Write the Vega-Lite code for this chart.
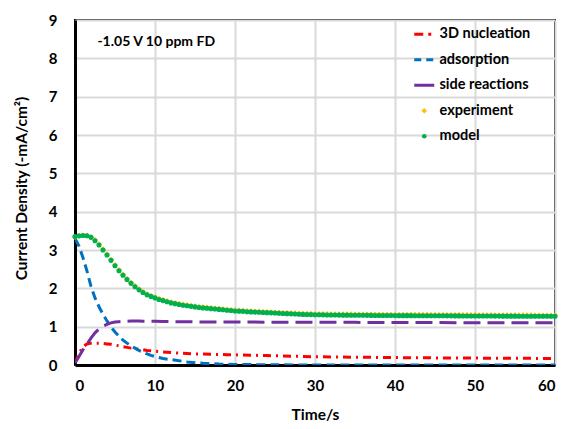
{
  "$schema": "https://vega.github.io/schema/vega-lite/v6.json",
  "width": 480,
  "height": 345,
  "autosize": {"type": "none"},
  "padding": {"left": 75, "top": 20, "right": 16, "bottom": 64},
  "background": "white",
  "config": {
    "view": {"stroke": "#000", "strokeWidth": 2},
    "axis": {
      "labelFont": "Lato", "labelFontWeight": "bold", "labelFontSize": 15, "labelColor": "#000",
      "titleFont": "Lato", "titleFontWeight": "bold", "titleFontSize": 15.5, "titleColor": "#000",
      "ticks": false, "domainColor": "#000", "domainWidth": 3,
      "gridColor": "#d9d9d9", "gridWidth": 2, "labelOverlap": false
    },
    "legend": {"labelFont": "Lato", "labelFontWeight": "bold", "labelFontSize": 14.5, "labelColor": "#000"}
  },
  "datasets": {
    "comp": [
      {"t": 0, "3D nucleation": 0.05, "adsorption": 3.30, "side reactions": 0.05},
      {"t": 0.5, "3D nucleation": 0.30, "adsorption": 3.10, "side reactions": 0.22},
      {"t": 1, "3D nucleation": 0.48, "adsorption": 2.80, "side reactions": 0.40},
      {"t": 1.5, "3D nucleation": 0.55, "adsorption": 2.45, "side reactions": 0.55},
      {"t": 2, "3D nucleation": 0.57, "adsorption": 2.05, "side reactions": 0.70},
      {"t": 2.5, "3D nucleation": 0.57, "adsorption": 1.75, "side reactions": 0.84},
      {"t": 3, "3D nucleation": 0.57, "adsorption": 1.52, "side reactions": 0.94},
      {"t": 3.5, "3D nucleation": 0.56, "adsorption": 1.32, "side reactions": 1.01},
      {"t": 4, "3D nucleation": 0.55, "adsorption": 1.15, "side reactions": 1.06},
      {"t": 4.5, "3D nucleation": 0.54, "adsorption": 0.99, "side reactions": 1.10},
      {"t": 5, "3D nucleation": 0.52, "adsorption": 0.86, "side reactions": 1.12},
      {"t": 5.5, "3D nucleation": 0.50, "adsorption": 0.75, "side reactions": 1.13},
      {"t": 6, "3D nucleation": 0.48, "adsorption": 0.65, "side reactions": 1.14},
      {"t": 6.5, "3D nucleation": 0.46, "adsorption": 0.57, "side reactions": 1.14},
      {"t": 7, "3D nucleation": 0.44, "adsorption": 0.50, "side reactions": 1.145},
      {"t": 7.5, "3D nucleation": 0.43, "adsorption": 0.44, "side reactions": 1.145},
      {"t": 8, "3D nucleation": 0.41, "adsorption": 0.38, "side reactions": 1.145},
      {"t": 8.5, "3D nucleation": 0.40, "adsorption": 0.33, "side reactions": 1.14},
      {"t": 9, "3D nucleation": 0.38, "adsorption": 0.29, "side reactions": 1.14},
      {"t": 9.5, "3D nucleation": 0.37, "adsorption": 0.25, "side reactions": 1.14},
      {"t": 10, "3D nucleation": 0.36, "adsorption": 0.22, "side reactions": 1.14},
      {"t": 11, "3D nucleation": 0.34, "adsorption": 0.17, "side reactions": 1.135},
      {"t": 12, "3D nucleation": 0.325, "adsorption": 0.14, "side reactions": 1.13},
      {"t": 13, "3D nucleation": 0.31, "adsorption": 0.11, "side reactions": 1.13},
      {"t": 14, "3D nucleation": 0.30, "adsorption": 0.08, "side reactions": 1.13},
      {"t": 15, "3D nucleation": 0.29, "adsorption": 0.06, "side reactions": 1.125},
      {"t": 16, "3D nucleation": 0.285, "adsorption": 0.045, "side reactions": 1.125},
      {"t": 17, "3D nucleation": 0.28, "adsorption": 0.035, "side reactions": 1.125},
      {"t": 18, "3D nucleation": 0.275, "adsorption": 0.025, "side reactions": 1.12},
      {"t": 19, "3D nucleation": 0.27, "adsorption": 0.02, "side reactions": 1.12},
      {"t": 20, "3D nucleation": 0.265, "adsorption": 0.015, "side reactions": 1.12},
      {"t": 22, "3D nucleation": 0.255, "adsorption": 0.01, "side reactions": 1.12},
      {"t": 24, "3D nucleation": 0.245, "adsorption": 0.006, "side reactions": 1.118},
      {"t": 26, "3D nucleation": 0.235, "adsorption": 0.004, "side reactions": 1.116},
      {"t": 28, "3D nucleation": 0.225, "adsorption": 0.002, "side reactions": 1.115},
      {"t": 30, "3D nucleation": 0.215, "adsorption": 0.001, "side reactions": 1.114},
      {"t": 35, "3D nucleation": 0.203, "adsorption": 0, "side reactions": 1.112},
      {"t": 40, "3D nucleation": 0.193, "adsorption": 0, "side reactions": 1.11},
      {"t": 45, "3D nucleation": 0.186, "adsorption": 0, "side reactions": 1.106},
      {"t": 50, "3D nucleation": 0.18, "adsorption": 0, "side reactions": 1.103},
      {"t": 55, "3D nucleation": 0.175, "adsorption": 0, "side reactions": 1.10},
      {"t": 60, "3D nucleation": 0.17, "adsorption": 0, "side reactions": 1.10}
    ],
    "pts": [
      {"t": 0, "model": 3.35, "experiment": 3.34},
      {"t": 0.5, "model": 3.37, "experiment": 3.36},
      {"t": 1, "model": 3.38, "experiment": 3.38},
      {"t": 1.5, "model": 3.37, "experiment": 3.38},
      {"t": 2, "model": 3.33, "experiment": 3.34},
      {"t": 2.5, "model": 3.24, "experiment": 3.26},
      {"t": 3, "model": 3.13, "experiment": 3.15},
      {"t": 3.5, "model": 3.00, "experiment": 3.02},
      {"t": 4, "model": 2.87, "experiment": 2.89},
      {"t": 4.5, "model": 2.73, "experiment": 2.75},
      {"t": 5, "model": 2.59, "experiment": 2.61},
      {"t": 5.5, "model": 2.46, "experiment": 2.48},
      {"t": 6, "model": 2.34, "experiment": 2.36},
      {"t": 6.5, "model": 2.23, "experiment": 2.25},
      {"t": 7, "model": 2.13, "experiment": 2.15},
      {"t": 7.5, "model": 2.04, "experiment": 2.06},
      {"t": 8, "model": 1.96, "experiment": 1.98},
      {"t": 8.5, "model": 1.89, "experiment": 1.91},
      {"t": 9, "model": 1.83, "experiment": 1.85},
      {"t": 9.5, "model": 1.79, "experiment": 1.80},
      {"t": 10, "model": 1.75, "experiment": 1.77},
      {"t": 10.5, "model": 1.71, "experiment": 1.73},
      {"t": 11, "model": 1.68, "experiment": 1.70},
      {"t": 11.5, "model": 1.65, "experiment": 1.67},
      {"t": 12, "model": 1.62, "experiment": 1.64},
      {"t": 12.5, "model": 1.60, "experiment": 1.62},
      {"t": 13, "model": 1.58, "experiment": 1.60},
      {"t": 13.5, "model": 1.56, "experiment": 1.58},
      {"t": 14, "model": 1.545, "experiment": 1.565},
      {"t": 14.5, "model": 1.53, "experiment": 1.55},
      {"t": 15, "model": 1.515, "experiment": 1.535},
      {"t": 15.5, "model": 1.50, "experiment": 1.52},
      {"t": 16, "model": 1.49, "experiment": 1.51},
      {"t": 16.5, "model": 1.48, "experiment": 1.50},
      {"t": 17, "model": 1.47, "experiment": 1.49},
      {"t": 17.5, "model": 1.46, "experiment": 1.48},
      {"t": 18, "model": 1.45, "experiment": 1.47},
      {"t": 18.5, "model": 1.44, "experiment": 1.46},
      {"t": 19, "model": 1.43, "experiment": 1.45},
      {"t": 19.5, "model": 1.42, "experiment": 1.44},
      {"t": 20, "model": 1.41, "experiment": 1.43},
      {"t": 20.5, "model": 1.405, "experiment": 1.425},
      {"t": 21, "model": 1.40, "experiment": 1.42},
      {"t": 21.5, "model": 1.39, "experiment": 1.41},
      {"t": 22, "model": 1.385, "experiment": 1.405},
      {"t": 22.5, "model": 1.38, "experiment": 1.40},
      {"t": 23, "model": 1.375, "experiment": 1.395},
      {"t": 23.5, "model": 1.37, "experiment": 1.39},
      {"t": 24, "model": 1.365, "experiment": 1.385},
      {"t": 24.5, "model": 1.36, "experiment": 1.38},
      {"t": 25, "model": 1.355, "experiment": 1.375},
      {"t": 25.5, "model": 1.35, "experiment": 1.37},
      {"t": 26, "model": 1.345, "experiment": 1.365},
      {"t": 26.5, "model": 1.34, "experiment": 1.36},
      {"t": 27, "model": 1.335, "experiment": 1.355},
      {"t": 27.5, "model": 1.33, "experiment": 1.35},
      {"t": 28, "model": 1.325, "experiment": 1.345},
      {"t": 28.5, "model": 1.32, "experiment": 1.34},
      {"t": 29, "model": 1.318, "experiment": 1.338},
      {"t": 29.5, "model": 1.315, "experiment": 1.336},
      {"t": 30, "model": 1.312, "experiment": 1.334},
      {"t": 30.5, "model": 1.31, "experiment": 1.332},
      {"t": 31, "model": 1.308, "experiment": 1.331},
      {"t": 31.5, "model": 1.306, "experiment": 1.33},
      {"t": 32, "model": 1.304, "experiment": 1.328},
      {"t": 32.5, "model": 1.303, "experiment": 1.327},
      {"t": 33, "model": 1.302, "experiment": 1.326},
      {"t": 33.5, "model": 1.301, "experiment": 1.325},
      {"t": 34, "model": 1.30, "experiment": 1.324},
      {"t": 34.5, "model": 1.299, "experiment": 1.323},
      {"t": 35, "model": 1.298, "experiment": 1.322},
      {"t": 35.5, "model": 1.297, "experiment": 1.321},
      {"t": 36, "model": 1.296, "experiment": 1.32},
      {"t": 36.5, "model": 1.295, "experiment": 1.32},
      {"t": 37, "model": 1.294, "experiment": 1.319},
      {"t": 37.5, "model": 1.293, "experiment": 1.318},
      {"t": 38, "model": 1.292, "experiment": 1.317},
      {"t": 38.5, "model": 1.291, "experiment": 1.316},
      {"t": 39, "model": 1.29, "experiment": 1.315},
      {"t": 39.5, "model": 1.29, "experiment": 1.315},
      {"t": 40, "model": 1.289, "experiment": 1.314},
      {"t": 40.5, "model": 1.288, "experiment": 1.313},
      {"t": 41, "model": 1.288, "experiment": 1.313},
      {"t": 41.5, "model": 1.287, "experiment": 1.312},
      {"t": 42, "model": 1.287, "experiment": 1.312},
      {"t": 42.5, "model": 1.286, "experiment": 1.311},
      {"t": 43, "model": 1.286, "experiment": 1.311},
      {"t": 43.5, "model": 1.285, "experiment": 1.31},
      {"t": 44, "model": 1.285, "experiment": 1.31},
      {"t": 44.5, "model": 1.284, "experiment": 1.309},
      {"t": 45, "model": 1.284, "experiment": 1.309},
      {"t": 45.5, "model": 1.283, "experiment": 1.308},
      {"t": 46, "model": 1.283, "experiment": 1.308},
      {"t": 46.5, "model": 1.282, "experiment": 1.307},
      {"t": 47, "model": 1.282, "experiment": 1.307},
      {"t": 47.5, "model": 1.281, "experiment": 1.306},
      {"t": 48, "model": 1.281, "experiment": 1.306},
      {"t": 48.5, "model": 1.28, "experiment": 1.305},
      {"t": 49, "model": 1.28, "experiment": 1.305},
      {"t": 49.5, "model": 1.279, "experiment": 1.304},
      {"t": 50, "model": 1.279, "experiment": 1.304},
      {"t": 50.5, "model": 1.278, "experiment": 1.303},
      {"t": 51, "model": 1.278, "experiment": 1.303},
      {"t": 51.5, "model": 1.277, "experiment": 1.302},
      {"t": 52, "model": 1.277, "experiment": 1.302},
      {"t": 52.5, "model": 1.276, "experiment": 1.301},
      {"t": 53, "model": 1.276, "experiment": 1.301},
      {"t": 53.5, "model": 1.275, "experiment": 1.30},
      {"t": 54, "model": 1.275, "experiment": 1.30},
      {"t": 54.5, "model": 1.274, "experiment": 1.299},
      {"t": 55, "model": 1.274, "experiment": 1.299},
      {"t": 55.5, "model": 1.273, "experiment": 1.298},
      {"t": 56, "model": 1.273, "experiment": 1.298},
      {"t": 56.5, "model": 1.272, "experiment": 1.297},
      {"t": 57, "model": 1.272, "experiment": 1.297},
      {"t": 57.5, "model": 1.271, "experiment": 1.296},
      {"t": 58, "model": 1.271, "experiment": 1.296},
      {"t": 58.5, "model": 1.27, "experiment": 1.295},
      {"t": 59, "model": 1.27, "experiment": 1.295},
      {"t": 59.5, "model": 1.27, "experiment": 1.295},
      {"t": 60, "model": 1.27, "experiment": 1.295}
    ],
    "note": [{"t": 2.8, "v": 8.43, "label": "-1.05 V 10 ppm FD"}]
  },
  "encoding": {
    "x": {"field": "t", "type": "quantitative", "scale": {"domain": [0, 60], "nice": false},
      "axis": {"title": "Time/s", "values": [0, 10, 20, 30, 40, 50, 60], "labelPadding": 13, "labelOverlap": false, "titleY": 49, "titleBaseline": "middle"}},
    "y": {"field": "v", "type": "quantitative", "scale": {"domain": [0, 9], "nice": false},
      "axis": {"title": "Current Density (-mA/cm²)", "values": [0, 1, 2, 3, 4, 5, 6, 7, 8, 9], "labelOverlap": false, "labelFlush": false, "labelPadding": 18, "titleX": -54, "titleY": 168, "titleBaseline": "middle"}}
  },
  "layer": [
    {
      "data": {"name": "comp"},
      "transform": [{"fold": ["3D nucleation", "adsorption", "side reactions"], "as": ["series", "v"]}],
      "mark": {"type": "line", "strokeWidth": 3, "clip": true},
      "encoding": {
        "color": {"field": "series", "type": "nominal",
          "scale": {"domain": ["3D nucleation", "adsorption", "side reactions", "experiment", "model"],
                    "range": ["#FF0000", "#0070C0", "#7030A0", "#FFC000", "#00B050"]},
          "legend": {
            "title": null, "orient": "none", "legendX": 342, "legendY": 7, "padding": 0,
            "symbolSize": 400, "rowPadding": 10.5, "labelOffset": 8,
            "encode": {"symbols": {"update": {
              "shape": {"signal": "datum.value == 'experiment' ? 'diamond' : datum.value == 'model' ? 'circle' : 'stroke'"},
              "size": {"signal": "datum.value == 'experiment' ? 30 : datum.value == 'model' ? 22 : 400"},
              "fill": {"signal": "datum.value == 'experiment' ? '#FFC000' : datum.value == 'model' ? '#00B050' : 'transparent'"},
              "stroke": {"signal": "datum.value == '3D nucleation' ? '#FF0000' : datum.value == 'adsorption' ? '#0070C0' : datum.value == 'side reactions' ? '#7030A0' : 'transparent'"},
              "strokeWidth": {"signal": "datum.value == 'experiment' || datum.value == 'model' ? 0 : 3"},
              "strokeDash": {"signal": "datum.value == '3D nucleation' ? [9, 5, 3, 5] : datum.value == 'adsorption' ? [7, 5] : [1, 0]"},
              "opacity": {"value": 1}
            }}}
          }},
        "strokeDash": {"field": "series", "type": "nominal",
          "scale": {"domain": ["3D nucleation", "adsorption", "side reactions"], "range": [[8, 5, 2, 5], [9, 5], [17, 7]]},
          "legend": null}
      }
    },
    {
      "data": {"name": "pts"},
      "transform": [{"fold": ["experiment"], "as": ["series", "v"]}],
      "mark": {"type": "point", "shape": "diamond", "filled": true, "size": 34, "opacity": 1},
      "encoding": {
        "color": {"field": "series", "type": "nominal"}
      }
    },
    {
      "data": {"name": "pts"},
      "transform": [{"fold": ["model"], "as": ["series", "v"]}],
      "mark": {"type": "point", "shape": "circle", "filled": true, "size": 26, "opacity": 1},
      "encoding": {
        "color": {"field": "series", "type": "nominal"}
      }
    },
    {
      "data": {"name": "note"},
      "mark": {"type": "text", "align": "left", "baseline": "middle", "font": "Lato", "fontWeight": "bold", "fontSize": 14, "color": "#000"},
      "encoding": {
        "text": {"field": "label"}
      }
    }
  ]
}
